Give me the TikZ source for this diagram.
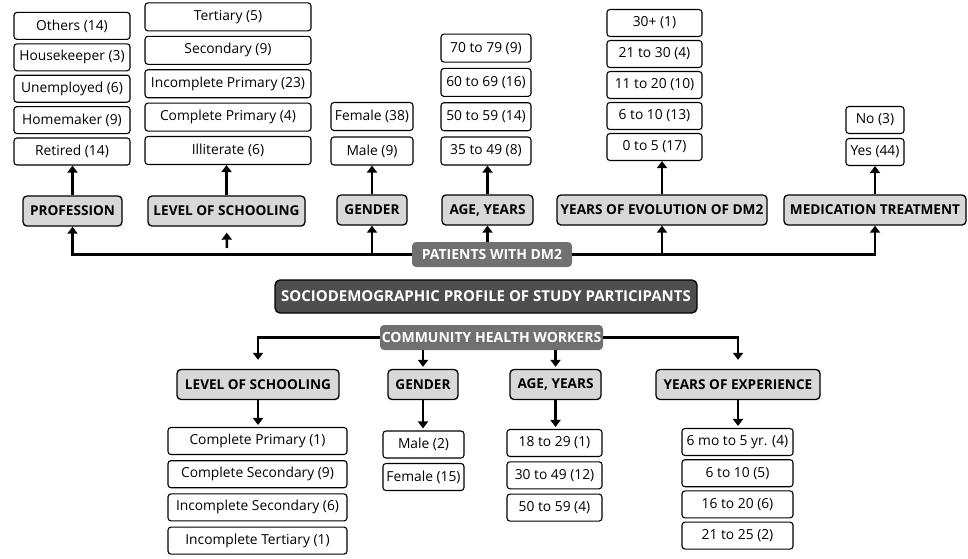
\documentclass[tikz,border=0pt]{standalone}
\usepackage{fontspec}
\setmainfont{Open Sans}
\usetikzlibrary{arrows.meta}
\definecolor{headgray}{RGB}{216,216,216}
\definecolor{groupgray}{RGB}{112,112,112}
\definecolor{titlegray}{RGB}{78,78,78}

\begin{document}
\begin{tikzpicture}[x=1pt,y=-1pt,
		valbox/.style={draw,rounded corners=3pt,line width=1.1pt,fill=white,minimum height=27pt,inner sep=0pt,font=\fontsize{13.8}{15}\selectfont},
		headbox/.style={draw,rounded corners=4pt,line width=1.3pt,fill=headgray,minimum height=30pt,inner sep=0pt,font=\bfseries\fontsize{13.6}{15}\selectfont},
		groupbox/.style={rounded corners=4pt,fill=groupgray,text=white,minimum height=25pt,inner sep=0pt,font=\bfseries\fontsize{14}{15}\selectfont},
		arr/.style={line width=2.5pt,-{Triangle[length=7pt,width=10pt]}}]
		\useasboundingbox (0,0) rectangle (968,558);

		% patients with DM2
		\node[groupbox,minimum width=160pt] (pat) at (492,254.5) {PATIENTS WITH DM2};
		\node[headbox,minimum width=99pt] (prof) at (72.5,211) {PROFESSION};
		\node[headbox,minimum width=157pt] (sch) at (226.5,211) {LEVEL OF SCHOOLING};
		\node[headbox,minimum width=70pt] (gen) at (372,210) {GENDER};
		\node[headbox,minimum width=91pt] (age) at (487.5,210) {AGE, YEARS};
		\node[headbox,minimum width=210pt] (evo) at (662,210) {YEARS OF EVOLUTION OF DM2};
		\node[headbox,minimum width=182pt] (med) at (875,210) {MEDICATION TREATMENT};

		\foreach \t [count=\i] in {Retired (14),Homemaker (9),Unemployed (6),Housekeeper (3),Others (14)}
			\node[valbox,minimum width=116pt] (prof\i) at (72,{151.5-31.4*(\i-1)}) {\t};
		\foreach \t [count=\i] in {Illiterate (6),Complete Primary (4),Incomplete Primary (23),Secondary (9),Tertiary (5)}
			\node[valbox,minimum width=166pt,minimum height=28pt] (sch\i) at (228,{150.5-33.4*(\i-1)}) {\t};
		\foreach \t [count=\i] in {Male (9),Female (38)}
			\node[valbox,minimum width=82pt,minimum height=28pt] (gen\i) at (372,{151-34.5*(\i-1)}) {\t};
		\foreach \t [count=\i] in {35 to 49 (8),50 to 59 (14),60 to 69 (16),70 to 79 (9)}
			\node[valbox,minimum width=90pt,minimum height=28pt] (age\i) at (486,{151-34.3*(\i-1)}) {\t};
		\foreach \t [count=\i] in {0 to 5 (17),6 to 10 (13),11 to 20 (10),21 to 30 (4),30+ (1)}
			\node[valbox,minimum width=95pt] (evo\i) at (654.5,{147-31*(\i-1)}) {\t};
		\foreach \t [count=\i] in {Yes (44),No (3)}
			\node[valbox,minimum width=58pt] (med\i) at (875,{152-32*(\i-1)}) {\t};

		\draw[arr] (pat.west) -| (prof.south);
		\draw[arr] (pat.east) -| (med.south);
		\draw[arr] (gen.south |- pat) -- (gen.south);
		\draw[arr] (evo.south |- pat) -- (evo.south);
		\draw[arr] (age.south |- pat.north) -- (age.south);
		\coordinate (schfoot) at (227,248);
		\draw[arr,shorten >=6pt] (schfoot) -- (sch.south);
		\foreach \n in {prof,sch,gen,age,evo,med}
			\draw[arr] (\n.north) -- (\n.north |- \n1.south);

		% title
		\node[draw,line width=1.3pt,rounded corners=5pt,fill=titlegray,text=white,minimum width=422pt,minimum height=33pt,inner sep=0pt,font=\bfseries\fontsize{15}{17}\selectfont] (title) at (486,296.5) {SOCIODEMOGRAPHIC PROFILE OF STUDY PARTICIPANTS};

		% community health workers
		\node[groupbox,minimum width=223pt] (chw) at (491.5,337.5) {COMMUNITY HEALTH WORKERS};
		\node[headbox,minimum width=162pt] (blev) at (258,384.5) {LEVEL OF SCHOOLING};
		\node[headbox,minimum width=70pt] (bgen) at (423,384.5) {GENDER};
		\node[headbox,minimum width=91pt] (bage) at (555.5,384.5) {AGE, YEARS};
		\node[headbox,minimum width=164pt] (bexp) at (738,384.5) {YEARS OF EXPERIENCE};

		\foreach \t [count=\i] in {Complete Primary (1),Complete Secondary (9),Incomplete Secondary (6),Incomplete Tertiary (1)}
			\node[valbox,minimum width=179pt] (blev\i) at (257.5,{441+33.2*(\i-1)}) {\t};
		\foreach \t [count=\i] in {Male (2),Female (15)}
			\node[valbox,minimum width=81pt] (bgen\i) at (423.5,{444.5+32.5*(\i-1)}) {\t};
		\foreach \t [count=\i] in {18 to 29 (1),30 to 49 (12),50 to 59 (4)}
			\node[valbox,minimum width=95pt] (bage\i) at (554.5,{443+32.3*(\i-1)}) {\t};
		\foreach \t [count=\i] in {6 mo to 5 yr. (4),6 to 10 (5),16 to 20 (6),21 to 25 (2)}
			\node[valbox,minimum width=111pt] (bexp\i) at (737.5,{442+31.2*(\i-1)}) {\t};

		\draw[arr,shorten >=9pt] (chw.west) -| (blev.north);
		\draw[arr,shorten >=9pt] (chw.east) -| (bexp.north);
		\draw[arr,shorten >=2pt] (chw.south -| bgen) -- (bgen.north);
		\draw[arr,shorten >=2pt] (chw.south -| bage) -- (bage.north);
		\foreach \n in {blev,bgen,bage,bexp}
			\draw[arr,shorten >=2pt] (\n.south) -- (\n.south |- \n1.north);
	\end{tikzpicture}
\end{document}
